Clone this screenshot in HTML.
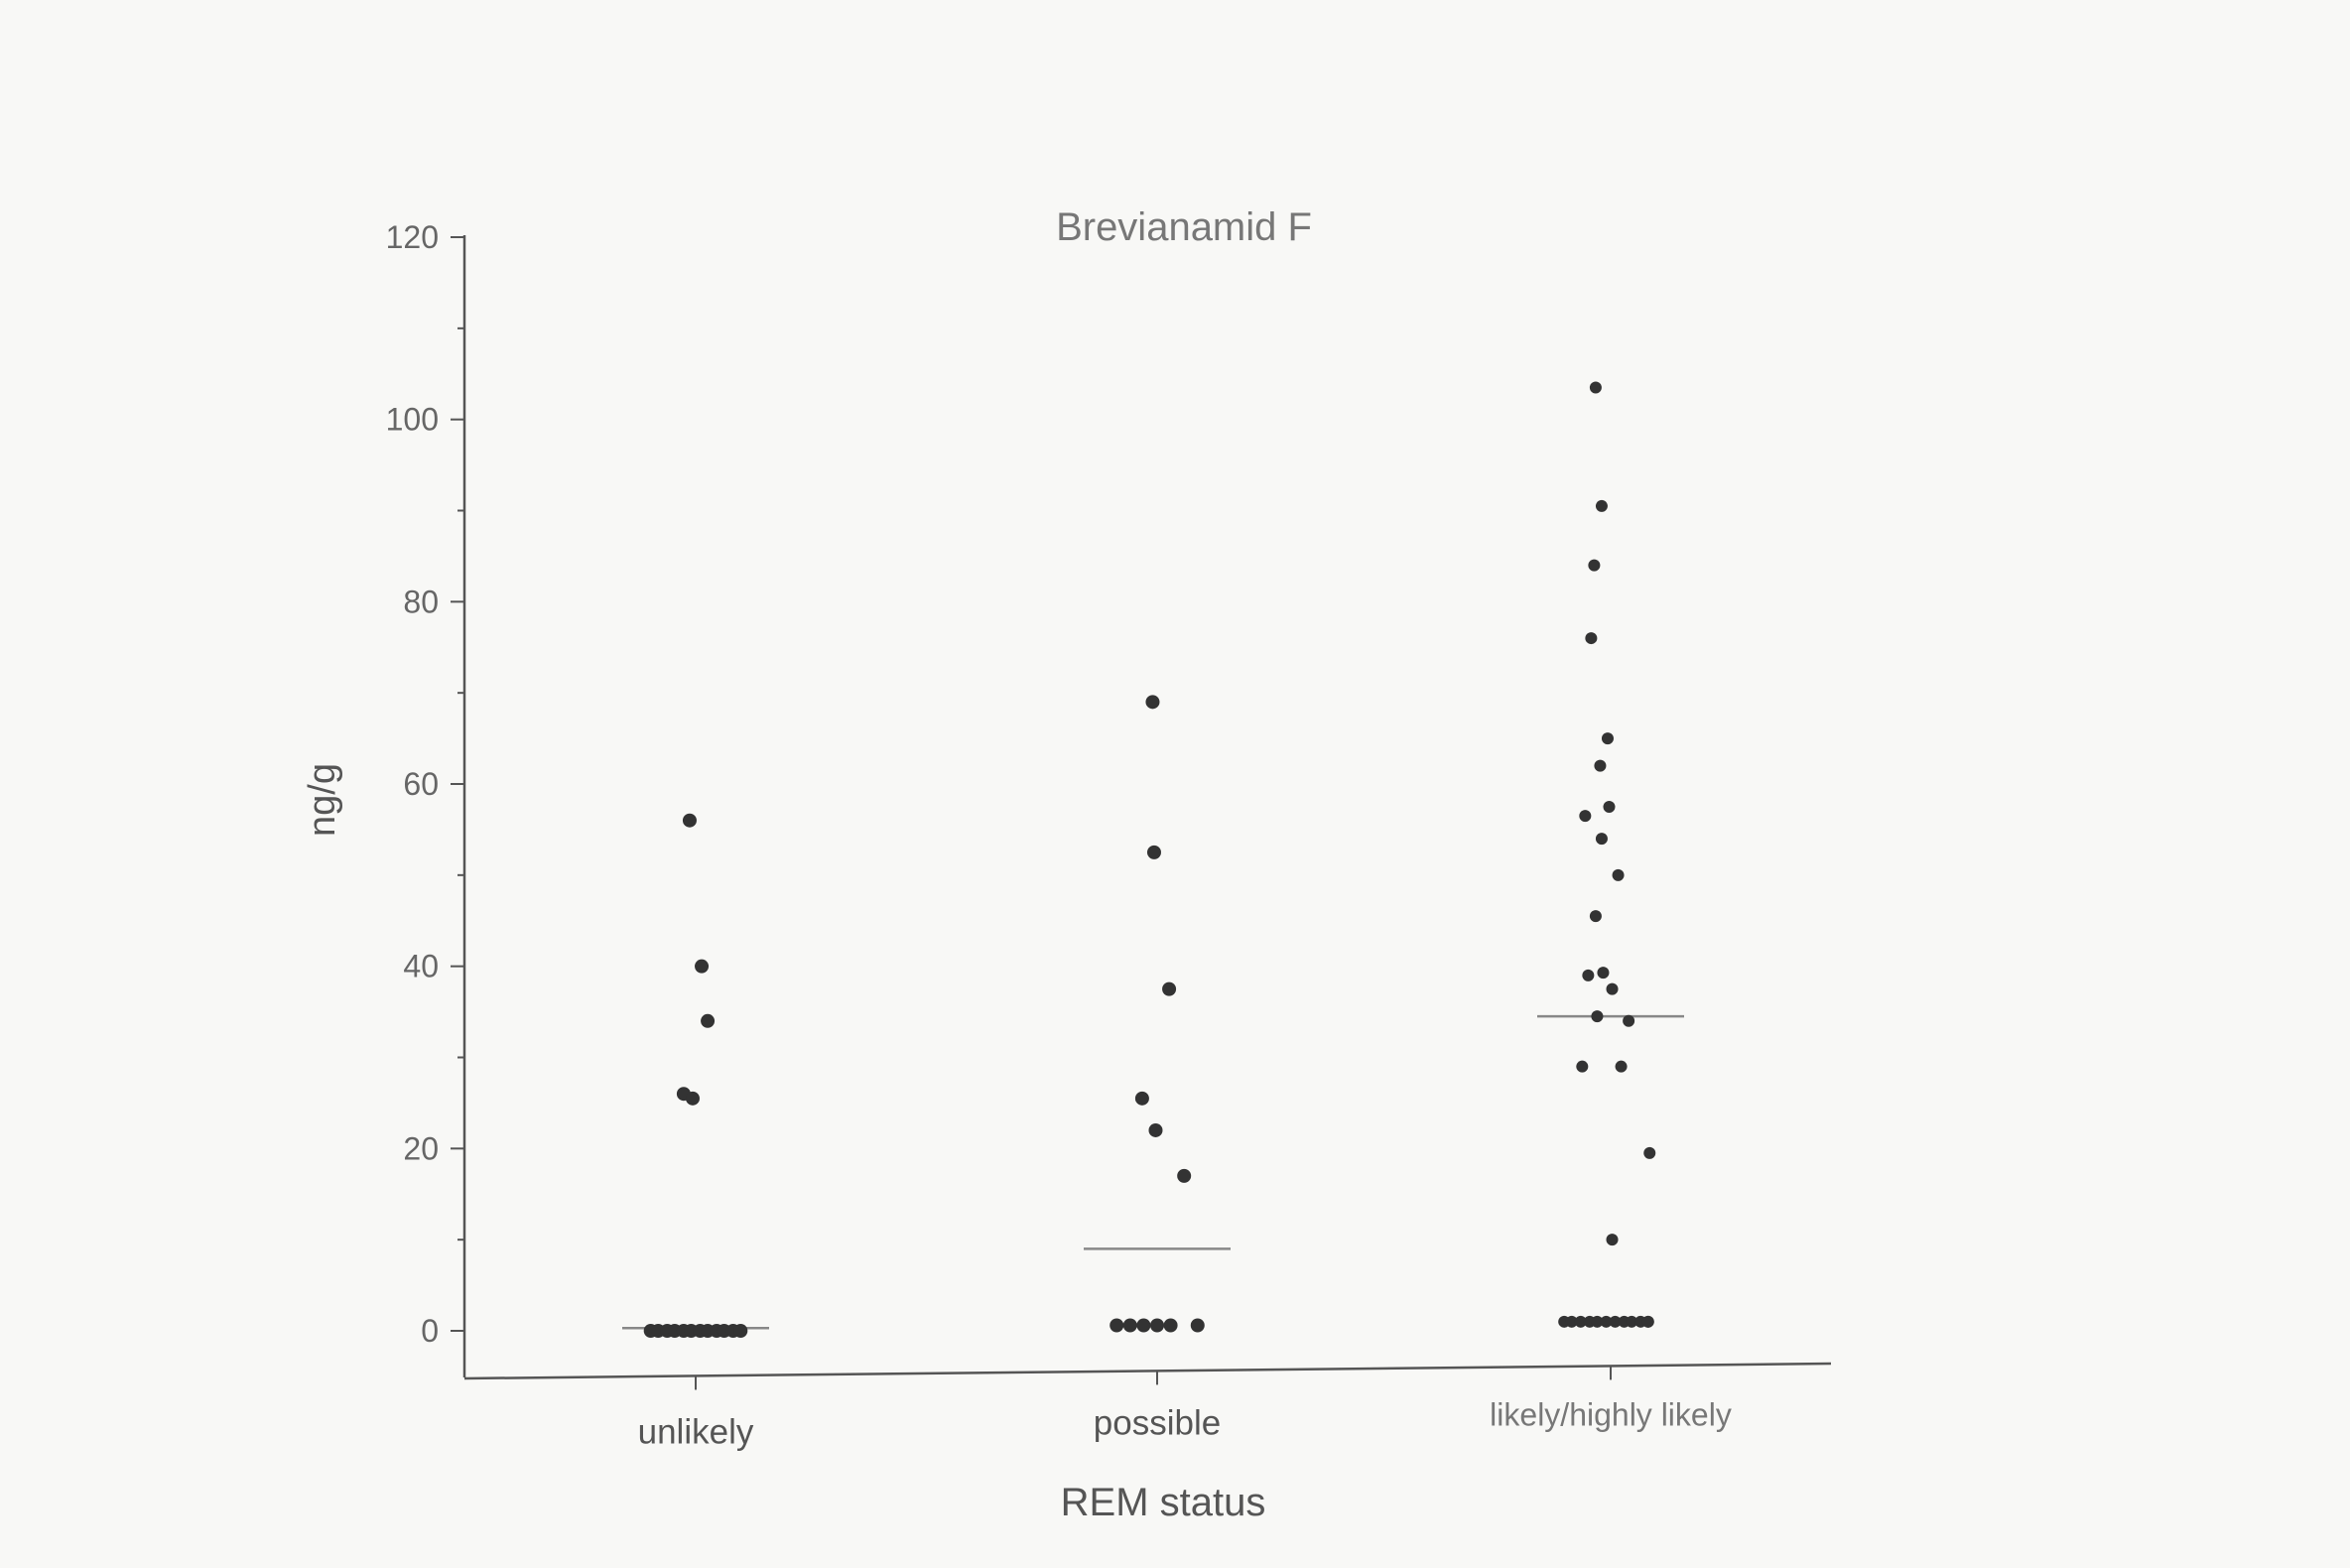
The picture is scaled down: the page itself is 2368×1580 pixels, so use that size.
<!DOCTYPE html>
<html><head><meta charset="utf-8"><style>
html,body{margin:0;padding:0;background:#f8f8f6;}
svg{display:block;font-family:"Liberation Sans",sans-serif;}
</style></head><body>
<svg id="chart" width="2368" height="1580" viewBox="0 0 2368 1580">
<rect x="0" y="0" width="2368" height="1580" fill="#f8f8f6"/>
<g id="plot"></g>
</svg>
<script>
const categories = ["unlikely", "possible", "likely/highly likely"];
const valuesUnlikely = [56, 40, 34, 26, 25.5, 0,0,0,0,0,0,0,0,0,0,0,0];
const valuesPossible = [69, 52.5, 37.5, 25.5, 22, 17, 0.6,0.6,0.6,0.6,0.6,0.6];
const valuesLikely = [103.5, 90.5, 84, 76, 65, 62, 57.5, 56.5, 54, 50, 45.5, 39, 39.3, 37.5, 34.5, 34, 29, 29, 19.5, 10, 1,1,1,1,1,1,1,1,1,1,1,1];
const jitterUnlikely = [-4, 4, 8, -8, -2, -30,-25,-19,-14,-8,-3,3,8,14,19,25,30];
const jitterPossible = [-3, -2, 8, -10, -1, 18, -27,-18,-9,0,9,27];
const jitterLikely = [-10,-6,-11,-13,-2,-7,-1,-17,-6,5,-10,-15,-5,1,-9,12,-19,7,26,1, -31,-26,-20,-14,-9,-3,3,9,14,20,25,25];
const meansValues = [0.3, 9, 34.5];
const yTicks = [0, 20, 40, 60, 80, 100, 120];

const NS = "http://www.w3.org/2000/svg";
const g = document.getElementById("plot");
const X0 = 468, XEND = 1845, Y0 = 1341, Y120 = 239, AXY = 1374;
const catX = [701, 1166, 1623];
function y(v){ return Y0 - (v/120)*(Y0-Y120); }
function x(i, off){ return catX[i] + off*1.51; }
function el(tag, attrs){ const e=document.createElementNS(NS,tag); for(const k in attrs) e.setAttribute(k, attrs[k]); g.appendChild(e); return e; }

let a = el("line",{x1:X0,y1:Y120-2,x2:X0,y2:AXY+14,stroke:"#555","stroke-width":2.5});


a = el("line",{x1:X0,y1:AXY+15,x2:XEND,y2:AXY,stroke:"#555","stroke-width":2.5});



for(let v=0; v<=120; v+=10){
  const major = v%20===0;
  const t = el("line",{x1:X0-(major?14:7),y1:y(v),x2:X0,y2:y(v),stroke:"#555","stroke-width":2});
  
  
}
yTicks.forEach(v=>{
  const t = el("text",{x:X0-26,y:y(v)+11,"text-anchor":"end","font-size":32,fill:"#666"});
  t.textContent = v;
  
  
});
categories.forEach((c,i)=>{
  const yy = AXY+15 - (15*(catX[i]-X0)/(XEND-X0));
  const t = el("line",{x1:catX[i],y1:yy,x2:catX[i],y2:yy+14,stroke:"#555","stroke-width":2});
  
  
  const l = el("text",{x:catX[i],y:yy+68-i*4,"text-anchor":"middle","font-size":i==2?32:35,fill:i==2?"#777":"#555"});
  l.textContent = c;
  
  
});
let tt = el("text",{x:1193,y:242,"text-anchor":"middle","font-size":40,fill:"#777"});
tt.textContent = "Brevianamid F";


tt = el("text",{x:1172,y:1527,"text-anchor":"middle","font-size":40,fill:"#555"});
tt.textContent = "REM status";


tt = el("text",{x:0,y:0,"text-anchor":"middle","font-size":38,fill:"#555",transform:"translate(337,806) rotate(-90)"});
tt.textContent = "ng/g";



meansValues.forEach((m,i)=>{
  const l = el("line",{x1:catX[i]-74,y1:y(m),x2:catX[i]+74,y2:y(m),stroke:"#888","stroke-width":2.5});
  
  
});
[[valuesUnlikely,jitterUnlikely],[valuesPossible,jitterPossible],[valuesLikely,jitterLikely]].forEach(([vals,jit],i)=>{
  vals.forEach((v,j)=>{
    const c = el("circle",{cx:x(i,jit[j]||0),cy:y(v),r:i==2?6:7,fill:"#333"});
    
    
  });
});
</script>
</body></html>
